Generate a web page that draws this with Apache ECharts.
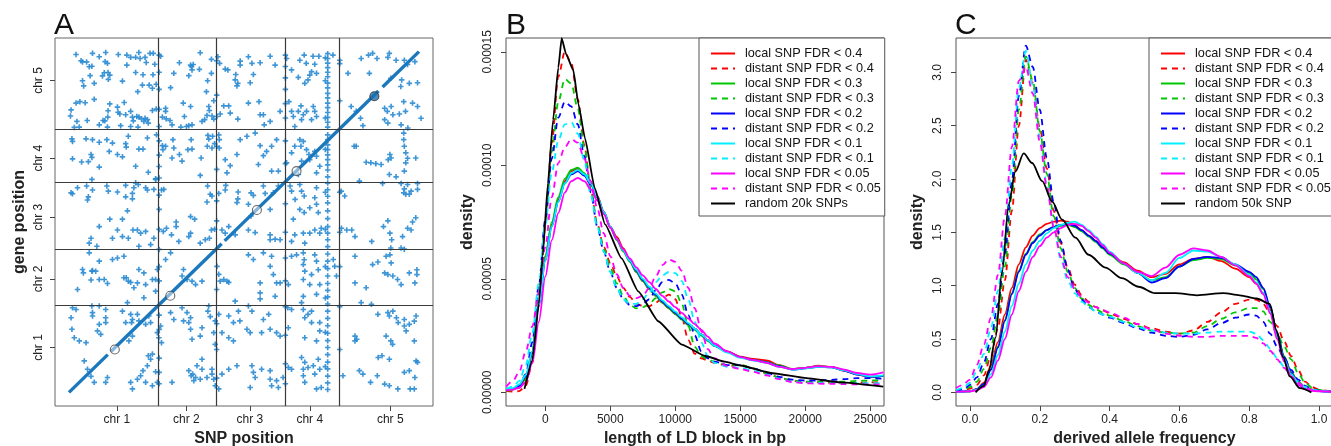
<!DOCTYPE html>
<html><head><meta charset="utf-8">
<script src="https://cdn.jsdelivr.net/npm/echarts@6/dist/echarts.min.js"></script>
<style>html,body{margin:0;padding:0;background:#fff}#c{width:1331px;height:446px}</style>
</head><body><div id="c"></div><script>
// ---------------- Panel A data (positions in Mb on concatenated genome) ----------------
const CHR_BOUNDS = [30.4, 50.1, 73.6, 92.2];
const GENOME_LEN = 119.2;
const A_TICKS_X = [16.3, 40.0, 61.6, 82.0, 109.4];
const A_TICKS_Y = [15.7, 39.7, 61.3, 81.9, 109.1];
const A_TICK_LABELS = ['chr 1', 'chr 2', 'chr 3', 'chr 4', 'chr 5'];
const DIAG_SEGMENTS = [[0, 13.2], [14.3, 52.0], [53.0, 105.4], [106.8, 119.2]];
const OPEN_CIRCLES = [[15.6, 15.0], [34.5, 33.8], [64.0, 63.8], [77.5, 77.4]];
const FILLED_CIRCLES = [[104.0, 103.6]];
const transTopLeft = [[2.4,118.2],[4.1,116.0],[4.6,115.6],[6.0,115.6],[8.0,118.6],[10.3,117.4],[12.5,118.9],[12.3,115.7],[13.1,115.1],[16.8,118.2],[19.7,118.0],[21.0,117.2],[22.7,117.2],[23.8,118.9],[24.2,116.8],[25.9,117.2],[27.6,118.6],[28.7,118.6],[26.3,115.4],[29.2,114.8],[31.2,117.6],[37.6,115.3],[41.4,114.5],[42.3,114.7],[44.7,118.8],[44.4,113.0],[41.9,112.8],[48.5,116.5],[50.7,117.4],[51.3,115.1],[53.2,113.1],[54.1,112.8],[58.3,115.9],[58.3,114.5],[56.8,111.2],[6.9,113.9],[7.8,114.1],[7.2,110.8],[12.0,111.8],[11.4,110.7],[13.3,111.9],[13.4,109.5],[13.9,111.0],[18.2,108.9],[19.7,114.5],[22.7,111.9],[25.2,111.1],[28.6,111.1],[4.6,109.0],[5.0,107.2],[8.6,108.1],[25.0,107.5],[27.3,107.5],[28.4,106.4],[29.7,107.8],[34.6,106.6],[35.7,111.6],[40.8,110.8],[41.7,113.9],[47.2,109.0],[48.5,111.6],[46.8,105.2],[56.6,109.3],[57.5,108.1],[57.2,107.2],[23.4,105.2],
[0.7,98.8],[0.5,96.7],[2.4,101.2],[3.7,101.7],[5.5,101.3],[8.6,102.5],[6.2,95.1],[3.5,92.8],[1.8,92.7],[2.7,94.8],[11.6,95.1],[12.2,95.0],[13.2,96.3],[13.3,98.5],[13.9,100.9],[16.5,99.8],[16.7,98.0],[17.3,97.4],[18.8,101.4],[19.3,97.1],[21.0,98.3],[21.6,96.3],[21.9,95.0],[23.1,96.5],[23.8,96.3],[24.7,95.7],[25.9,95.9],[26.7,95.4],[25.5,94.8],[27.0,94.2],[28.4,98.6],[29.7,99.1],[31.8,96.3],[32.9,99.4],[32.9,98.3],[33.1,95.7],[34.4,95.1],[35.1,93.6],[38.9,101.2],[39.3,96.5],[41.4,100.0],[38.1,92.8],[40.0,93.0],[40.8,93.3],[41.9,93.6],[45.3,94.8],[46.2,95.4],[47.0,96.9],[47.8,98.6],[48.7,96.7],[49.3,95.6],[49.3,102.0],[47.6,100.0],[50.4,96.5],[51.5,97.4],[52.7,100.2],[54.4,100.2],[54.9,97.7],[57.5,95.6],[13.1,92.8],[10.3,93.6],[21.0,93.0],[23.5,92.8],[17.6,93.3],
[1.0,88.7],[1.2,87.8],[5.8,88.7],[8.0,88.4],[10.3,87.5],[12.9,88.4],[13.7,84.3],[14.8,87.2],[16.5,83.2],[18.2,82.4],[19.3,87.0],[19.5,85.8],[20.2,89.6],[22.7,79.1],[23.8,85.1],[25.2,85.1],[26.7,89.0],[27.0,77.0],[29.5,74.7],[29.8,90.1],[31.8,86.3],[32.0,84.9],[32.9,86.1],[35.4,88.4],[35.7,85.5],[35.1,82.0],[37.6,83.2],[38.5,80.9],[40.5,84.9],[41.6,88.4],[41.9,85.1],[45.0,82.0],[44.7,75.9],[47.1,86.1],[47.3,89.9],[47.6,88.6],[48.7,85.5],[48.9,89.6],[49.6,87.0],[51.0,90.1],[51.2,88.4],[51.2,85.5],[53.2,81.4],[53.8,76.8],[54.9,79.3],[57.2,83.2],[58.3,88.4],[1.2,81.7],[4.3,80.6],[6.6,80.7],[10.3,78.8],[7.5,83.2],[7.8,82.2],
[0.7,69.8],[1.2,69.5],[2.9,71.6],[6.0,72.2],[6.6,68.4],[6.3,67.3],[7.8,74.5],[8.0,70.8],[12.9,72.2],[13.4,70.4],[16.5,70.1],[19.3,72.4],[19.3,68.4],[21.6,69.6],[21.6,67.7],[22.1,71.6],[22.7,73.3],[23.6,72.7],[26.1,71.6],[26.7,70.8],[28.9,71.0],[29.5,74.5],[31.5,70.8],[32.3,71.0],[36.5,59.6],[41.4,61.5],[42.8,60.6],[47.2,72.2],[47.0,66.6],[48.1,69.3],[48.7,68.7],[51.0,69.6],[53.4,72.4],[53.2,70.8],[57.6,70.1],[57.5,67.7],[57.2,66.4],[19.9,63.5],[18.2,60.6],[13.9,60.6]];
const transTopRight = [[61.1,117.4],[62.3,115.1],[65.1,115.3],[68.5,117.6],[70.2,114.5],[62.8,111.2],[61.7,108.3],[74.1,116.8],[75.8,112.8],[78.1,110.2],[80.1,118.0],[83.1,117.6],[85.1,117.6],[83.7,114.8],[82.6,112.2],[82.0,111.0],[84.3,111.6],[80.3,108.1],[81.4,109.3],[80.8,115.1],[78.6,116.2],[89.9,118.0],[92.2,116.2],[95.0,111.6],[99.5,116.8],[102.0,118.0],[103.4,118.6],[104.9,116.8],[109.1,118.6],[108.6,117.2],[111.4,116.2],[114.2,116.2],[115.3,114.7],[117.8,115.7],[118.7,108.3],[115.9,108.1],[113.3,109.3],[109.6,109.9],[113.0,107.0],[102.3,111.6],
[61.1,101.2],[64.7,101.7],[65.1,97.1],[66.2,97.1],[66.5,93.6],[68.5,94.8],[71.9,98.3],[74.9,101.7],[75.8,98.3],[76.4,96.5],[78.1,98.3],[79.0,100.2],[79.8,97.1],[80.9,98.3],[83.2,100.0],[83.7,98.3],[84.3,96.5],[82.6,95.4],[79.2,95.4],[76.9,93.0],[96.1,100.0],[97.8,98.3],[99.3,95.9],[100.1,93.3],[107.5,99.4],[108.4,98.3],[109.7,100.0],[110.3,97.1],[107.5,95.4],[108.6,94.2],[112.5,97.4],[113.1,93.6],[115.4,92.5],[119.9,95.9],[118.7,100.0],[117.0,101.2],[114.6,98.3],[114.0,101.7],
[60.6,89.6],[63.4,90.7],[65.1,86.3],[67.3,84.3],[66.2,82.8],[69.0,86.1],[70.7,88.4],[64.5,79.7],[69.0,77.4],[71.3,77.4],[74.1,80.3],[75.8,83.8],[76.9,86.1],[78.6,88.4],[79.0,86.1],[79.8,87.8],[80.9,84.9],[81.7,83.2],[82.0,81.4],[79.2,80.9],[78.1,76.2],[83.7,84.3],[84.3,82.6],[85.4,79.1],[84.3,76.8],[97.1,86.1],[97.8,86.1],[101.2,80.5],[102.8,80.3],[104.5,80.0],[106.3,79.7],[109.3,83.2],[109.7,82.0],[108.7,81.4],[109.1,76.2],[111.4,75.4],[114.0,90.7],[114.0,88.4],[114.2,86.1],[114.7,83.8],[115.3,81.9],[114.7,80.3],[118.1,82.0],[114.2,77.4],[113.1,73.1],[115.3,72.7],[118.7,73.1],[98.9,73.9],[106.8,73.1],
[62.0,69.8],[62.8,68.9],[61.1,65.8],[62.0,61.7],[66.2,72.2],[66.8,69.6],[69.6,69.8],[71.3,72.2],[68.5,64.0],[75.3,72.2],[75.8,70.4],[78.6,72.7],[79.2,70.4],[80.1,68.7],[77.0,67.5],[78.6,64.0],[80.1,62.9],[76.4,60.6],[84.3,71.6],[83.7,68.1],[84.3,65.8],[82.0,64.6],[84.9,62.9],[92.7,70.4],[93.9,68.7],[114.2,71.2],[114.0,69.8],[114.7,69.3],[115.9,69.3],[116.5,70.4],[118.7,71.0],[118.1,61.1],[117.0,59.6],[108.6,60.0]];
const transBottomLeft = [[7.5,53.9],[10.3,58.0],[14.8,53.9],[16.5,56.8],[18.2,54.5],[20.2,53.9],[21.8,56.8],[23.3,56.8],[24.4,55.7],[26.1,56.3],[28.9,53.9],[32.1,56.3],[33.2,57.4],[34.9,55.1],[36.5,58.0],[37.4,52.8],[40.8,54.5],[41.4,55.7],[44.7,52.2],[46.4,53.4],[47.8,53.9],[48.5,56.8],[49.6,57.1],[52.1,56.8],[53.2,55.7],[56.6,55.1],[54.4,58.0],[23.8,51.1],[27.8,51.7],[9.5,51.1],[6.9,52.2],
[4.6,43.0],[4.9,41.8],[6.9,48.8],[7.8,42.4],[8.0,42.6],[9.1,42.4],[10.3,45.9],[7.5,39.3],[10.3,39.5],[12.0,39.5],[13.1,38.1],[2.9,36.0],[14.8,46.5],[16.5,47.0],[18.7,47.6],[18.7,40.1],[19.5,40.1],[20.2,38.9],[21.0,38.5],[23.3,38.3],[23.8,43.0],[25.5,41.8],[26.1,37.7],[28.4,39.5],[29.5,39.5],[30.1,43.0],[32.9,46.5],[34.6,48.8],[38.5,40.7],[40.2,39.5],[41.9,38.9],[39.0,43.0],[45.3,38.9],[43.1,37.7],[50.4,44.1],[51.0,41.3],[51.5,38.9],[52.7,39.5],[53.8,38.9],[54.4,38.5],[56.6,31.9],[22.1,36.6],[25.5,33.1],[29.5,35.4],[19.9,31.4],[10.3,30.2],[7.8,30.2],[1.2,29.6],[2.4,29.0],[12.5,29.0],
[57.7,28.4],[0.7,26.1],[1.0,22.1],[1.8,19.1],[3.5,18.0],[5.8,17.4],[8.0,27.9],[8.0,26.7],[12.5,26.1],[12.5,24.4],[9.7,21.5],[10.3,23.8],[10.8,20.3],[18.2,28.4],[19.3,24.4],[21.0,27.3],[21.3,24.4],[21.6,25.5],[23.3,27.3],[23.8,25.0],[26.1,23.8],[27.2,26.7],[27.8,24.4],[21.6,19.7],[20.4,18.0],[30.1,20.9],[30.6,19.1],[31.5,17.4],[31.2,23.2],[34.6,27.9],[35.7,25.5],[38.5,29.6],[40.2,27.9],[41.4,26.1],[39.0,25.0],[40.8,24.4],[41.9,18.6],[41.4,22.1],[44.7,19.7],[45.3,22.6],[47.3,28.4],[47.6,30.2],[49.8,25.0],[49.3,20.9],[49.8,16.8],[52.1,20.9],[54.4,19.1],[54.4,26.7],[56.0,24.4],[58.2,25.0],[56.0,18.0],[48.1,26.5],[51.0,27.3],
[5.2,11.0],[6.3,8.1],[7.5,5.6],[8.6,3.5],[13.1,5.2],[12.5,3.5],[24.4,5.8],[26.1,3.5],[26.7,9.3],[27.8,11.6],[28.4,13.4],[27.0,12.8],[25.2,7.6],[29.5,7.2],[30.1,3.5],[21.0,3.5],[23.3,4.6],[40.8,7.6],[41.6,5.8],[42.1,6.4],[43.1,5.2],[42.5,4.1],[43.6,9.3],[44.7,4.6],[45.3,8.1],[48.7,8.1],[48.7,6.4],[49.3,4.6],[49.8,2.3],[47.0,5.2],[51.0,1.2],[52.1,6.4],[54.4,8.1],[57.2,9.3],[35.1,3.5],[21.6,1.2],[28.4,2.3],[45.3,11.6]];
const transBottomRight = [[61.1,56.8],[63.4,55.9],[68.5,55.1],[68.5,53.4],[70.2,53.6],[71.9,53.4],[75.8,52.8],[76.9,55.1],[79.8,55.7],[80.3,52.2],[82.0,55.7],[83.7,56.8],[85.4,55.7],[85.9,57.4],[92.8,57.4],[94.6,56.8],[96.3,56.8],[97.4,54.5],[103.1,52.8],[107.1,58.0],[109.3,55.7],[109.9,53.4],[113.6,54.5],[115.3,57.4],[116.5,56.8],[113.1,50.5],[114.2,50.1],[109.6,50.5],
[61.1,48.1],[62.8,46.5],[66.2,48.8],[69.0,47.6],[68.5,44.1],[69.6,41.2],[70.7,38.3],[71.9,38.3],[65.1,38.3],[65.1,34.8],[65.1,32.7],[70.2,33.6],[74.7,37.7],[75.8,47.6],[77.5,48.1],[79.8,48.8],[80.1,46.4],[79.8,44.7],[80.3,42.4],[79.8,39.5],[82.0,37.7],[82.6,41.2],[83.7,48.1],[84.3,45.9],[84.9,42.9],[85.4,37.7],[79.8,33.6],[79.2,31.4],[84.3,34.3],[90.0,46.5],[90.5,44.1],[91.1,40.7],[97.4,47.6],[97.4,38.3],[103.4,44.7],[105.2,45.6],[101.2,36.6],[108.0,47.6],[109.3,48.1],[109.7,45.3],[107.5,41.8],[108.6,41.2],[110.3,40.7],[111.9,39.5],[113.1,37.7],[115.9,41.8],[118.5,42.9],[118.5,41.2],[117.8,38.3],[99.5,31.4],[103.0,30.8],
[61.1,30.2],[62.3,28.4],[60.6,22.1],[61.7,20.9],[66.2,25.5],[68.0,27.3],[68.5,22.1],[70.7,20.9],[71.9,19.7],[65.6,20.9],[74.5,29.6],[74.7,22.6],[75.8,29.0],[79.8,29.0],[80.3,26.1],[81.4,27.3],[82.6,28.4],[82.6,24.4],[80.3,19.1],[84.3,18.0],[85.4,21.5],[85.4,24.4],[97.4,19.7],[98.0,18.6],[97.4,18.0],[105.2,27.3],[108.6,27.9],[109.1,26.7],[110.3,28.4],[111.5,26.1],[112.1,24.4],[114.2,23.2],[115.9,23.8],[114.2,25.5],[117.6,24.9],[118.2,26.7],[108.0,19.7],[109.6,18.0],[110.2,16.8],[114.8,21.5],[117.6,18.0],[106.6,12.8],[109.1,11.6],
[62.3,9.3],[62.8,7.0],[63.4,5.2],[65.6,8.1],[68.5,7.6],[68.5,4.6],[69.0,2.3],[70.7,4.1],[71.3,1.7],[72.9,5.2],[61.7,1.7],[74.7,8.7],[75.8,8.1],[79.2,12.2],[80.3,10.5],[79.8,8.1],[81.4,8.7],[79.8,5.8],[80.3,3.5],[83.2,9.3],[83.7,6.4],[84.9,11.6],[85.4,8.1],[84.3,1.2],[85.9,1.7],[93.3,5.8],[98.9,7.6],[100.1,6.4],[102.7,3.5],[105.0,5.8],[107.5,2.9],[109.1,2.3],[112.0,1.2],[114.2,7.0],[115.9,7.6],[118.2,11.0],[118.7,10.5],[117.8,5.2],[116.2,1.2],[117.6,1.2],[105.3,12.2]];
// trans-eQTL hotspots: SNPs on chr 4 (and near chromosome ends) affecting many genes
const hotspotChr4 = [[88.1,118.5],[88.1,116.8],[88.1,115.2],[88.1,113.6],[88.1,112.0],[88.1,110.4],[88.1,108.2],[88.1,106.5],[88.1,104.6],[88.1,103.0],[88.1,101.2],[88.1,99.6],[88.1,97.9],[88.1,96.2],[88.1,94.5],[88.1,92.8],[88.1,90.1],[88.1,88.4],[88.1,86.6],[88.1,84.9],[88.1,83.1],[88.1,81.4],[88.1,79.6],[88.1,77.8],[88.1,75.4],[88.1,73.2],[88.1,70.9],[88.1,68.6],[88.1,66.3],[88.1,63.5],[88.1,60.8],[88.1,58.0],[88.1,55.7],[88.1,53.4],[88.1,51.0],[88.1,48.4],[88.1,45.9],[88.1,43.3],[88.1,40.7],[88.1,38.1],[88.1,35.7],[88.1,33.4],[88.1,30.9],[88.1,28.4],[88.1,25.9],[88.1,23.3],[88.1,20.7],[88.1,18.1],[88.1,15.7],[88.1,13.2],[88.1,10.6],[88.1,8.2],[88.1,5.7],[88.1,3.3],[88.1,1.0],
[87.3,117.0],[87.3,109.0],[87.3,96.0],[87.3,85.0],[87.3,70.0],[87.3,57.0],[87.3,44.0],[87.3,33.0],[87.3,21.0],[87.3,9.0]];
const edgeHotspots = [[30.7,118],[30.7,112],[30.7,106],[30.7,99],[30.7,93],[30.7,88],[30.7,83],[30.7,79],[30.7,75],[30.7,69],[30.7,64],[30.7,57],[30.7,50],[30.7,44],[30.7,39],[30.7,27],[30.7,22],[30.7,12],[30.7,7],[30.7,3],
[50.3,116],[50.3,104],[50.3,86],[50.3,78],[50.3,67],[50.3,60],[50.3,36],[50.3,24],[50.3,15],[50.3,5],
[73.7,118],[73.7,114],[73.7,110],[73.7,106],[73.7,101],[73.7,96],[73.7,88],[73.7,80],[73.7,66],[73.7,56],[73.7,47],[73.7,39],[73.7,30],[73.7,20],[73.7,10],[73.7,3],
[92.2,115],[92.2,102],[92.2,70],[92.2,56],[92.2,44],[92.2,30],[92.2,15]];

// ---------------- Panel B data: LD block length density (density in units of 1e-5) ----------------
const B_X = [-3000,-2500,-2000,-1500,-1000,-500,0,500,1000,1500,2000,2500,3000,3500,4000,4500,5000,5500,6000,6500,7000,7500,8000,8500,9000,9500,10000,10500,11000,11500,12000,12500,13000,14000,15000,16000,17000,18000,19000,20000,21000,22000,23000,24000,25000,26000];
const bLocal04 = [0.1,0.12,0.25,0.6,1.7,3.9,6.0,7.4,8.5,9.3,9.75,9.85,9.6,9.2,8.65,7.95,7.3,6.85,6.35,5.8,5.3,4.9,4.55,4.25,3.95,3.7,3.45,3.25,3.0,2.8,2.55,2.3,2.05,1.8,1.57,1.47,1.4,1.2,1.03,1.08,1.17,1.12,0.95,0.78,0.66,0.73];
const bDist04  = [0.05,0.03,0.05,0.3,1.3,3.8,7.3,11.0,13.9,15.0,14.5,12.9,10.9,8.9,7.4,6.4,5.7,5.1,4.6,4.2,3.9,3.8,3.8,3.95,4.15,4.3,4.1,3.3,2.3,1.7,1.5,1.4,1.3,1.15,1.2,1.05,0.85,0.65,0.5,0.45,0.44,0.43,0.42,0.42,0.44,0.46];
const bLocal03 = [0.1,0.15,0.3,0.7,1.8,3.9,6.0,7.5,8.6,9.4,9.8,9.9,9.65,9.2,8.6,7.9,7.25,6.7,6.2,5.75,5.3,4.9,4.55,4.25,3.95,3.7,3.45,3.2,2.95,2.75,2.5,2.25,2.05,1.78,1.55,1.42,1.33,1.18,1.02,1.08,1.15,1.12,0.98,0.8,0.68,0.72];
const bDist03  = [0.08,0.1,0.2,0.55,1.8,4.3,7.5,10.6,12.8,13.8,13.6,12.5,10.8,8.9,7.4,6.3,5.5,4.8,4.25,3.85,3.7,3.75,3.9,4.15,4.4,4.55,4.45,3.9,2.9,2.0,1.6,1.45,1.35,1.2,1.22,1.05,0.85,0.65,0.52,0.47,0.46,0.46,0.47,0.5,0.52,0.53];
const bLocal02 = [0.1,0.15,0.3,0.7,1.75,3.8,5.8,7.3,8.4,9.2,9.6,9.75,9.55,9.15,8.6,7.95,7.3,6.75,6.25,5.8,5.35,4.95,4.6,4.3,4.0,3.75,3.5,3.25,3.0,2.8,2.55,2.3,2.05,1.78,1.55,1.42,1.32,1.15,1.0,1.05,1.12,1.1,0.95,0.78,0.68,0.72];
const bDist02  = [0.1,0.15,0.3,0.8,2.2,4.7,7.6,10.3,12.1,12.8,12.6,11.8,10.4,8.8,7.3,6.2,5.3,4.6,4.1,3.85,3.8,3.9,4.1,4.5,4.85,4.95,4.8,4.3,3.4,2.5,1.8,1.5,1.35,1.2,1.2,1.05,0.87,0.68,0.56,0.52,0.52,0.55,0.58,0.62,0.62,0.6];
const bLocal01 = [0.12,0.18,0.35,0.75,1.8,3.8,5.8,7.3,8.4,9.2,9.65,9.8,9.6,9.2,8.6,7.95,7.3,6.75,6.25,5.8,5.4,5.0,4.65,4.35,4.05,3.8,3.55,3.3,3.05,2.8,2.55,2.3,2.05,1.75,1.52,1.4,1.3,1.12,1.0,1.05,1.12,1.1,0.97,0.8,0.7,0.75];
const bDist01  = [0.15,0.25,0.5,1.2,2.6,4.8,7.4,9.7,11.1,11.8,11.9,11.4,10.2,8.7,7.3,6.2,5.3,4.6,4.1,3.9,3.9,4.1,4.4,4.85,5.15,5.3,5.25,4.9,4.1,3.1,2.2,1.6,1.3,1.12,1.08,0.95,0.78,0.6,0.46,0.42,0.41,0.4,0.4,0.4,0.4,0.4];
const bLocal005 = [0.1,0.12,0.2,0.45,1.3,3.1,5.1,6.7,7.9,8.8,9.3,9.45,9.3,8.95,8.45,7.85,7.25,6.75,6.3,5.9,5.5,5.15,4.85,4.55,4.25,4.0,3.75,3.5,3.25,3.0,2.75,2.45,2.15,1.8,1.55,1.42,1.3,1.12,1.02,1.08,1.15,1.12,1.0,0.85,0.78,0.88];
const bDist005  = [0.25,0.5,0.9,1.8,2.9,4.4,6.4,8.6,10.1,10.8,11.15,11.0,10.3,9.3,8.1,7.0,6.0,5.2,4.6,4.25,4.15,4.25,4.6,5.1,5.6,5.85,5.75,5.35,4.6,3.7,2.7,1.9,1.5,1.15,1.03,0.9,0.75,0.58,0.45,0.4,0.38,0.37,0.36,0.35,0.35,0.35];
const bRandomX = [-1600,-1000,-500,-200,200,600,1000,1260,1600,2150,2550,3050,3800,4600,5870,7150,8690,10500,12300,13800,15000,17500,20100,22700,26000];
const bRandom  = [0.15,1.4,3.9,6.0,9.2,12.0,14.3,15.6,14.9,14.2,12.7,11.2,9.0,7.4,5.9,4.45,3.13,2.1,1.6,1.35,1.18,0.84,0.62,0.44,0.25];

// ---------------- Panel C data: derived allele frequency density ----------------
const C_X = [-0.04,-0.02,0,0.02,0.04,0.06,0.08,0.10,0.12,0.14,0.16,0.18,0.20,0.22,0.24,0.26,0.28,0.30,0.32,0.34,0.36,0.38,0.40,0.44,0.48,0.52,0.56,0.60,0.64,0.68,0.72,0.76,0.80,0.82,0.84,0.86,0.88,0.90,0.92,0.94,0.96,0.98,1.00,1.02,1.04];
const cLocal04 = [0.005,0.008,0.01,0.03,0.09,0.25,0.47,0.73,0.98,1.2,1.36,1.47,1.54,1.58,1.6,1.61,1.6,1.57,1.52,1.47,1.42,1.36,1.3,1.22,1.14,1.08,1.11,1.2,1.25,1.27,1.23,1.16,1.08,1.02,0.93,0.77,0.53,0.33,0.19,0.1,0.05,0.025,0.015,0.01,0.008];
const cDist04  = [0.01,0.015,0.035,0.07,0.16,0.34,0.6,1.05,1.7,2.5,3.12,2.9,2.48,2.1,1.7,1.4,1.17,1.01,0.91,0.85,0.8,0.77,0.74,0.69,0.64,0.6,0.57,0.55,0.58,0.66,0.75,0.83,0.87,0.87,0.83,0.74,0.62,0.48,0.34,0.21,0.1,0.05,0.025,0.015,0.01];
const cLocal03 = [0.005,0.008,0.01,0.03,0.08,0.22,0.43,0.68,0.93,1.14,1.3,1.41,1.48,1.52,1.55,1.56,1.57,1.55,1.51,1.46,1.41,1.35,1.29,1.2,1.12,1.05,1.08,1.18,1.24,1.26,1.25,1.19,1.12,1.06,0.97,0.8,0.56,0.34,0.19,0.1,0.05,0.025,0.015,0.01,0.008];
const cDist03  = [0.01,0.02,0.05,0.1,0.22,0.42,0.72,1.18,1.85,2.65,3.15,2.92,2.45,2.05,1.65,1.35,1.13,0.98,0.88,0.82,0.78,0.75,0.72,0.67,0.62,0.58,0.56,0.55,0.56,0.62,0.69,0.75,0.79,0.79,0.76,0.66,0.55,0.43,0.31,0.18,0.09,0.045,0.022,0.013,0.01];
const cLocal02 = [0.005,0.008,0.01,0.03,0.08,0.21,0.42,0.67,0.92,1.13,1.29,1.4,1.47,1.52,1.55,1.57,1.58,1.56,1.52,1.47,1.42,1.36,1.3,1.21,1.12,1.03,1.07,1.18,1.25,1.27,1.26,1.2,1.13,1.08,0.98,0.8,0.55,0.33,0.18,0.09,0.04,0.02,0.012,0.008,0.006];
const cDist02  = [0.012,0.025,0.07,0.14,0.28,0.5,0.83,1.3,1.98,2.78,3.25,3.05,2.65,2.2,1.78,1.42,1.15,0.97,0.87,0.8,0.76,0.73,0.7,0.65,0.6,0.56,0.53,0.52,0.54,0.59,0.65,0.7,0.73,0.72,0.66,0.55,0.43,0.32,0.21,0.12,0.06,0.03,0.015,0.01,0.008];
const cLocal01 = [0.005,0.008,0.01,0.025,0.06,0.17,0.35,0.57,0.81,1.02,1.2,1.33,1.42,1.49,1.54,1.57,1.59,1.6,1.57,1.52,1.46,1.39,1.32,1.21,1.12,1.05,1.12,1.26,1.33,1.32,1.27,1.2,1.1,1.03,0.93,0.76,0.52,0.31,0.17,0.09,0.04,0.02,0.012,0.008,0.006];
const cDist01  = [0.02,0.04,0.09,0.2,0.36,0.6,0.95,1.45,2.12,2.85,3.2,2.88,2.4,1.95,1.55,1.25,1.05,0.93,0.85,0.8,0.76,0.73,0.71,0.66,0.61,0.58,0.56,0.55,0.55,0.56,0.57,0.57,0.57,0.55,0.49,0.41,0.32,0.24,0.16,0.1,0.05,0.025,0.015,0.01,0.008];
const cLocal005 = [0.005,0.008,0.01,0.02,0.05,0.14,0.3,0.5,0.73,0.95,1.13,1.27,1.37,1.45,1.5,1.54,1.57,1.58,1.56,1.51,1.45,1.38,1.31,1.21,1.13,1.09,1.17,1.29,1.35,1.33,1.27,1.19,1.09,1.02,0.92,0.74,0.5,0.29,0.15,0.07,0.03,0.015,0.01,0.008,0.005];
const cDist005  = [0.04,0.07,0.12,0.26,0.45,0.7,1.1,1.65,2.3,2.92,3.05,2.8,2.35,1.93,1.55,1.27,1.08,0.97,0.89,0.84,0.8,0.77,0.75,0.7,0.64,0.59,0.55,0.53,0.52,0.52,0.53,0.53,0.53,0.51,0.46,0.39,0.31,0.23,0.15,0.09,0.045,0.02,0.012,0.008,0.005];
const cRandomX = [0.016,0.04,0.054,0.073,0.092,0.111,0.13,0.154,0.178,0.207,0.235,0.264,0.302,0.34,0.388,0.435,0.483,0.53,0.588,0.65,0.726,0.773,0.821,0.859,0.878,0.897,0.916,0.945,0.978];
const cRandom  = [0.0,0.06,0.2,0.51,1.13,1.76,2.07,2.24,2.15,1.98,1.79,1.62,1.45,1.29,1.17,1.07,0.99,0.93,0.93,0.91,0.93,0.91,0.88,0.83,0.58,0.33,0.15,0.04,0.0];

const SET_NAMES = ['local SNP FDR < 0.4','distant SNP FDR < 0.4','local SNP FDR < 0.3','distant SNP FDR < 0.3','local SNP FDR < 0.2','distant SNP FDR < 0.2','local SNP FDR < 0.1','distant SNP FDR < 0.1','local SNP FDR < 0.05','distant SNP FDR < 0.05'];
const SET_COLORS = ['#ff0000','#ff0000','#00c800','#00c800','#0000ff','#0000ff','#00f0ff','#00f0ff','#ff00ff','#ff00ff'];
const B_RANDOM_NAME = 'random 20k SNPs';
const C_RANDOM_NAME = 'random 50k SNP';
const B_SETS = [bLocal04,bDist04,bLocal03,bDist03,bLocal02,bDist02,bLocal01,bDist01,bLocal005,bDist005];
const C_SETS = [cLocal04,cDist04,cLocal03,cDist03,cLocal02,cDist02,cLocal01,cDist01,cLocal005,cDist005];

// ---------------- build chart ----------------
const FONT = '"Liberation Sans", Arial, Helvetica, sans-serif';
const zip = (xs, ys) => xs.map((x, i) => [x, ys[i]]);
const nearestLabel = (ticks, v) => { let bi = 0; ticks.forEach((t, i) => { if (Math.abs(t - v) < Math.abs(ticks[bi] - v)) bi = i; }); return A_TICK_LABELS[bi]; };
const PLUS = 'path://M2,0h1.7v5.7h-1.7zM0,2h5.7v1.7h-5.7z';
const DASH = [6, 5];

function curveSeries(name, data, color, dashed, xi) {
  return { type: 'line', name, data, xAxisIndex: xi, yAxisIndex: xi, symbol: 'none', showSymbol: false,
    smooth: 0.3, smoothMonotone: 'x', clip: true, silent: true,
    lineStyle: { color, width: 1.8, type: dashed ? DASH : 'solid' }, itemStyle: { color } };
}

const series = [];
series.push({ type: 'scatter', name: 'distant eQTL', xAxisIndex: 0, yAxisIndex: 0, symbol: PLUS, symbolSize: 5.5,
  itemStyle: { color: '#2a8bd2', opacity: 0.9 }, silent: true,
  data: [].concat(transTopLeft, transTopRight, transBottomLeft, transBottomRight, hotspotChr4, edgeHotspots),
  markLine: { silent: true, symbol: 'none', label: { show: false }, lineStyle: { color: '#3a3a3a', width: 1.2, type: 'solid' },
    data: CHR_BOUNDS.map(b => ({ xAxis: b })).concat(CHR_BOUNDS.map(b => ({ yAxis: b }))) } });
DIAG_SEGMENTS.forEach((s, i) => series.push({ type: 'line', name: 'local eQTL ' + i, xAxisIndex: 0, yAxisIndex: 0, symbol: 'none', silent: true,
  data: [[s[0], s[0]], [s[1], s[1]]], lineStyle: { color: '#1b78bd', width: 3.4 } }));
series.push({ type: 'scatter', name: 'open', xAxisIndex: 0, yAxisIndex: 0, symbol: 'circle', symbolSize: 9, silent: true,
  itemStyle: { color: 'rgba(255,255,255,0.6)', borderColor: '#444', borderWidth: 1.1 }, data: OPEN_CIRCLES, z: 5 });
series.push({ type: 'scatter', name: 'filled', xAxisIndex: 0, yAxisIndex: 0, symbol: 'circle', symbolSize: 9, silent: true,
  itemStyle: { color: '#1f6fae', borderColor: '#333', borderWidth: 1.1 }, data: FILLED_CIRCLES, z: 5 });

SET_NAMES.forEach((n, i) => series.push(curveSeries(n, zip(B_X, B_SETS[i]), SET_COLORS[i], i % 2 === 1, 1)));
series.push(Object.assign(curveSeries(B_RANDOM_NAME, zip(bRandomX, bRandom), '#000', false, 1), { smooth: 0.15 }));
SET_NAMES.forEach((n, i) => series.push(curveSeries(n, zip(C_X, C_SETS[i]), SET_COLORS[i], i % 2 === 1, 2)));
series.push(curveSeries(C_RANDOM_NAME, zip(cRandomX, cRandom), '#000', false, 2));

const tickLabel = { fontSize: 12, color: '#222', fontFamily: FONT };
const axisName = { fontSize: 16, fontWeight: 'bold', color: '#222', fontFamily: FONT };
function xAxis(gi, min, max, ticks, fmt, name) {
  return { type: 'value', gridIndex: gi, min, max, name, nameLocation: 'middle', nameGap: 23, nameTextStyle: axisName,
    axisLine: { show: false, onZero: false }, splitLine: { show: false },
    axisTick: { show: true, length: 5, customValues: ticks, lineStyle: { color: '#444' } },
    axisLabel: Object.assign({ customValues: ticks, formatter: fmt, margin: 8 }, tickLabel) };
}
function yAxis(gi, min, max, ticks, fmt, name, gap, margin) {
  return { type: 'value', gridIndex: gi, min, max, name, nameLocation: 'middle', nameGap: gap, nameTextStyle: axisName,
    axisLine: { show: false, onZero: false }, splitLine: { show: false },
    axisTick: { show: true, length: 5, customValues: ticks, lineStyle: { color: '#444' } },
    axisLabel: Object.assign({ customValues: ticks, formatter: fmt, rotate: 90, margin }, tickLabel) };
}
const PAD = GENOME_LEN * 0.04;
const legendCommon = { orient: 'vertical', top: 38, itemWidth: 24, itemHeight: 14, itemGap: 2, padding: [9, 4, 6, 11],
  borderColor: '#555', borderWidth: 1, backgroundColor: '#fff', selectedMode: false,
  itemStyle: { opacity: 0 }, textStyle: { fontSize: 12.7, color: '#111', fontFamily: FONT, padding: [0, 0, 0, 5] } };
const gridBase = { top: 38, height: 368, show: true, borderWidth: 1, outerBoundsMode: 'none', containLabel: false };
const panelTitle = (text, left) => ({ text, left, top: 11, padding: 0, textStyle: { fontSize: 30, fontWeight: 'normal', color: '#111', fontFamily: FONT } });

const option = {
  animation: false,
  textStyle: { fontFamily: FONT },
  title: [panelTitle('A', 54), panelTitle('B', 506), panelTitle('C', 955)],
  grid: [
    Object.assign({ left: 55, width: 378, borderColor: '#666' }, gridBase),
    Object.assign({ left: 506, width: 378, borderColor: '#555' }, gridBase),
    Object.assign({ left: 956, width: 377, borderColor: '#555' }, gridBase)
  ],
  xAxis: [
    xAxis(0, -PAD, GENOME_LEN + PAD, A_TICKS_X, v => nearestLabel(A_TICKS_X, v), 'SNP position'),
    xAxis(1, -3023, 26054, [0, 5000, 10000, 15000, 20000, 25000], v => String(v), 'length of LD block in bp'),
    xAxis(2, -0.04, 1.04, [0, 0.2, 0.4, 0.6, 0.8, 1.0], v => v.toFixed(1), 'derived allele frequency')
  ],
  yAxis: [
    yAxis(0, -PAD, GENOME_LEN + PAD, A_TICKS_Y, v => nearestLabel(A_TICKS_Y, v), 'gene position', 27, 10),
    yAxis(1, -0.604, 15.61, [0, 5, 10, 15], v => (v / 1e5).toFixed(5), 'density', 30, 12),
    yAxis(2, -0.128, 3.322, [0, 0.5, 1, 1.5, 2, 2.5, 3], v => v.toFixed(1), 'density', 30, 12)
  ],
  legend: [
    Object.assign({ left: 699, data: SET_NAMES.concat([B_RANDOM_NAME]) }, legendCommon),
    Object.assign({ left: 1149, data: SET_NAMES.concat([C_RANDOM_NAME]) }, legendCommon)
  ],
  series
};
const chart = echarts.init(document.getElementById('c'), null, { renderer: 'canvas' });
chart.setOption(option);
</script></body></html>
